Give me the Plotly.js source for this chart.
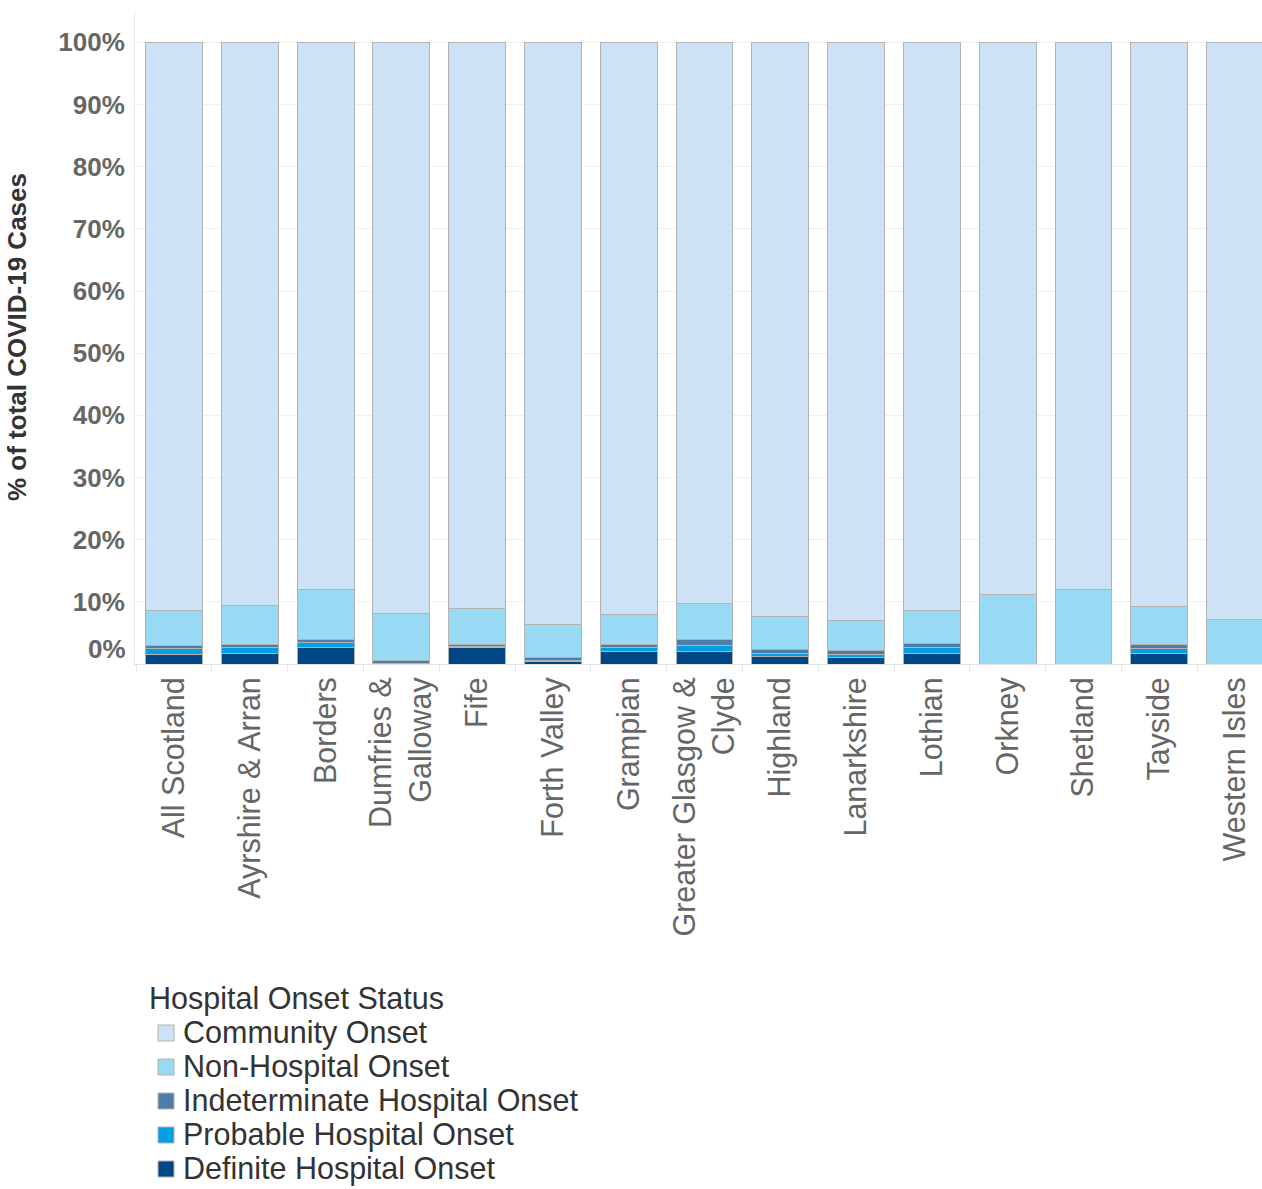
<!DOCTYPE html>
<html>
<head>
<meta charset="utf-8">
<script src="https://cdn.plot.ly/plotly-3.0.1.min.js"></script>
<style>
html,body{margin:0;padding:0;background:#fff;}
#chart{width:1262px;height:1189px;}
</style>
</head>
<body>
<div id="chart"></div>
<script>
// ---- data (percent of total COVID-19 cases) ----
const categories = ["All Scotland","Ayrshire & Arran","Borders","Dumfries &<br>Galloway","Fife","Forth Valley","Grampian","Greater Glasgow &<br>Clyde","Highland","Lanarkshire","Lothian","Orkney","Shetland","Tayside","Western Isles"];
const definiteOnset      = [1.6, 1.65, 2.7, 0.0, 2.7, 0.4, 2.0, 2.0, 1.2, 1.0, 1.65, 0, 0, 1.65, 0];
const probableOnset      = [0.85, 1.0, 0.8, 0.1, 0.1, 0.2, 0.6, 1.05, 0.5, 0.6, 1.0, 0, 0, 0.9, 0];
const indeterminateOnset = [0.6, 0.55, 0.5, 0.5, 0.3, 0.4, 0.6, 0.9, 0.7, 0.5, 0.6, 0, 0, 0.6, 0];
const nonHospitalOnset   = [5.5, 6.25, 8.0, 7.6, 5.9, 5.4, 4.8, 5.75, 5.2, 4.85, 5.4, 11.2, 12.0, 6.15, 7.2];
const communityOnset     = [91.45, 90.55, 88.0, 91.8, 91.0, 93.6, 92.0, 90.3, 92.4, 93.05, 91.35, 88.8, 88.0, 90.7, 92.8];
const seriesNames = ["Definite Hospital Onset","Probable Hospital Onset","Indeterminate Hospital Onset","Non-Hospital Onset","Community Onset"];
const yTickValues = [10,20,30,40,50,60,70,80,90,100];
const yTickLabels = ["10%","20%","30%","40%","50%","60%","70%","80%","90%","100%"];

// ---- styling ----
const colors = ["#004785","#00a0e3","#4f7ca8","#98d9f3","#cee2f5"];
const FONT = "Liberation Sans, Arial, sans-serif";
const seriesValues = [definiteOnset, probableOnset, indeterminateOnset, nonHospitalOnset, communityOnset];

const W = 1262, H = 1189;
const M = {l:135, r:0, t:10, b:525};
const plotW = W - M.l - M.r, plotH = H - M.t - M.b;
const px2x = p => (p - M.l) / plotW;
const px2y = p => (H - M.b - p) / plotH;

const traces = seriesNames.map((name, i) => ({
  type: "bar",
  name: name,
  x: categories,
  y: seriesValues[i],
  marker: {color: colors[i], line: {color: "#b3b3b3", width: 1}},
  showlegend: false,
  hoverinfo: "x+y+name"
}));

// custom legend (Community at top, Definite at bottom)
const annotations = [];
const shapes = [];
const LEG_FONT = {family:FONT, size:30.5, color:"#333"};
annotations.push({
  xref:"paper", yref:"paper", x:px2x(148), y:px2y(998), xanchor:"left", yanchor:"middle",
  text:"Hospital Onset Status", showarrow:false, font:LEG_FONT, borderpad:0
});
const legendOrder = [4,3,2,1,0];
legendOrder.forEach((si, k) => {
  const cy = 1032 + 34 * k;
  shapes.push({
    type:"rect", xref:"paper", yref:"paper",
    x0:px2x(158), x1:px2x(174), y0:px2y(cy+9), y1:px2y(cy-7),
    fillcolor: colors[si], line:{color:"#b3b3b3", width:1}
  });
  annotations.push({
    xref:"paper", yref:"paper", x:px2x(182), y:px2y(cy), xanchor:"left", yanchor:"middle",
    text: seriesNames[si], showarrow:false, font:LEG_FONT, borderpad:0
  });
});
// "0%" label sits slightly above the baseline
annotations.push({
  xref:"paper", yref:"paper", x:px2x(128), y:px2y(649), xanchor:"right", yanchor:"middle",
  text:"0%", showarrow:false, font:{family:FONT, size:26, color:"#666", weight:"bold"}
});

const layout = {
  width: W, height: H,
  margin: M,
  paper_bgcolor:"#fff", plot_bgcolor:"#fff",
  barmode: "stack",
  bargap: 0.25,
  showlegend: false,
  font: {family: FONT},
  xaxis: {
    type:"category",
    range:[-0.515, 14.355],
    tickangle:-90,
    tickfont:{family:FONT, size:30.5, color:"#666"},
    ticks:"outside", tickson:"boundaries", ticklen:7, tickcolor:"#e6e6e6",
    showline:true, linecolor:"#e3e3e3", linewidth:1,
    showgrid:false, zeroline:false,
    automargin:false
  },
  yaxis: {
    range:[0, 105.2],
    tickvals: yTickValues, ticktext: yTickLabels,
    tickfont:{family:FONT, size:26, color:"#666", weight:"bold"},
    ticks:"", ticklabelstandoff: 4,
    showgrid:true, gridcolor:"#f0f0f0", gridwidth:1,
    showline:true, linecolor:"#ececec", linewidth:1,
    zeroline:false,
    title:{text:"% of total COVID-19 Cases", font:{family:FONT, size:26, color:"#333", weight:"bold"}, standoff:24},
    automargin:false
  },
  annotations: annotations,
  shapes: shapes
};

Plotly.newPlot("chart", traces, layout, {displayModeBar:false, responsive:false});
</script>
</body>
</html>
